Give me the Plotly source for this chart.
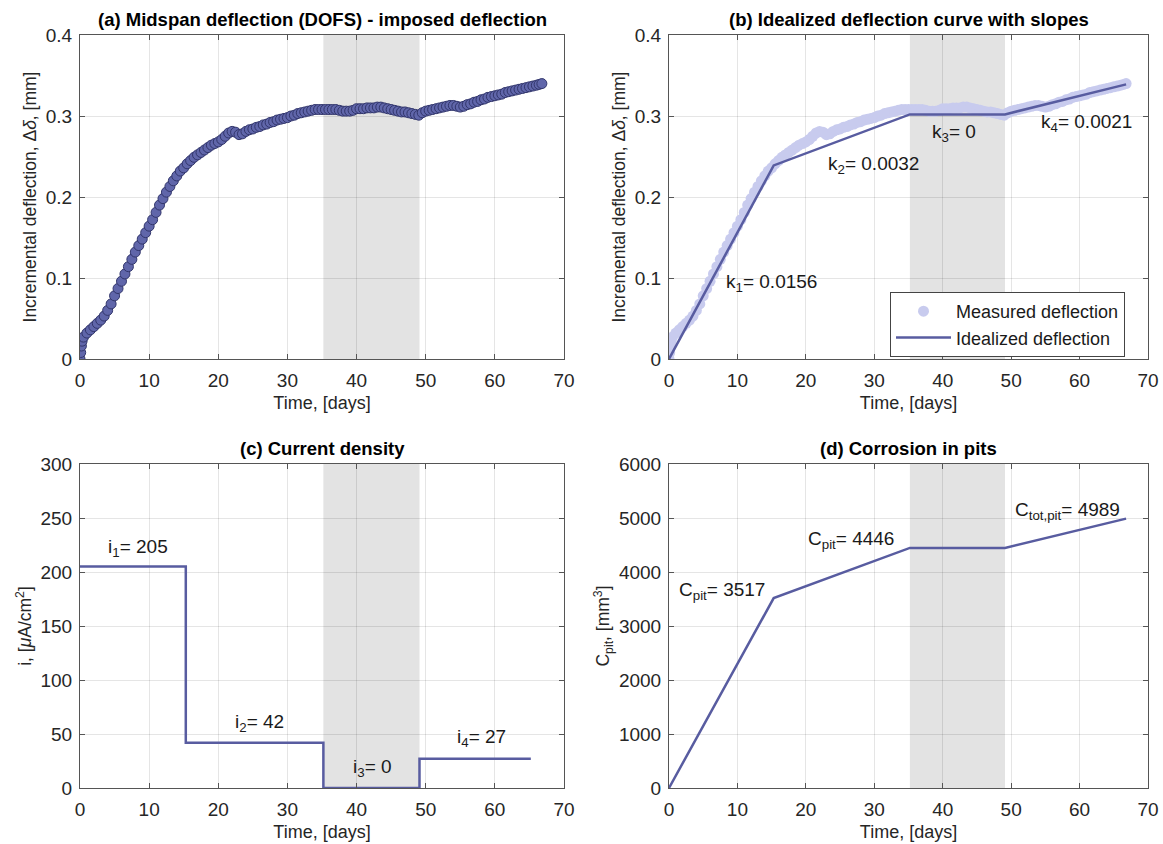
import plotly.graph_objects as go

# ---------------- data ----------------
days = [0.0, 0.1, 0.2, 0.3, 0.5, 1.0, 1.5, 2.0, 2.5, 3.0, 3.5, 4.0, 4.5, 5.0, 5.5,
        6.0, 6.5, 7.0, 7.5, 8.0, 8.5, 9.0, 9.5, 10.0, 10.5, 11.0, 11.5, 12.0, 12.5,
        13.0, 13.5, 14.0, 14.5, 15.0, 15.5, 16.0, 16.5, 17.0, 17.5, 18.0, 18.5,
        19.0, 19.5, 20.0, 20.5, 21.0, 21.5, 22.0, 22.5, 23.0, 23.5, 24.0, 24.5,
        25.0, 25.5, 26.0, 26.5, 27.0, 27.5, 28.0, 28.5, 29.0, 29.5, 30.0, 30.5,
        31.0, 31.5, 32.0, 32.5, 33.0, 33.5, 34.0, 34.5, 35.0, 35.5, 36.0, 36.5,
        37.0, 37.5, 38.0, 38.5, 39.0, 39.5, 40.0, 40.5, 41.0, 41.5, 42.0, 42.5,
        43.0, 43.5, 44.0, 44.5, 45.0, 45.5, 46.0, 46.5, 47.0, 47.5, 48.0, 48.5,
        49.0, 49.5, 50.0, 50.5, 51.0, 51.5, 52.0, 52.5, 53.0, 53.5, 54.0, 54.5,
        55.0, 55.5, 56.0, 56.5, 57.0, 57.5, 58.0, 58.5, 59.0, 59.5, 60.0, 60.5,
        61.0, 61.5, 62.0, 62.5, 63.0, 63.5, 64.0, 64.5, 65.0, 65.5, 66.0, 66.4, 66.8]
deflection = [0.000, 0.008, 0.016, 0.022, 0.027, 0.032, 0.036, 0.040, 0.044, 0.048,
              0.053, 0.060, 0.068, 0.078, 0.087, 0.096, 0.105, 0.114, 0.123, 0.132,
              0.140, 0.148, 0.156, 0.164, 0.172, 0.181, 0.190, 0.198, 0.206, 0.213,
              0.220, 0.226, 0.232, 0.236, 0.241, 0.245, 0.249, 0.252, 0.255, 0.258,
              0.261, 0.264, 0.266, 0.268, 0.271, 0.275, 0.279, 0.281, 0.280, 0.277,
              0.278, 0.281, 0.283, 0.284, 0.286, 0.287, 0.289, 0.290, 0.292, 0.293,
              0.295, 0.296, 0.297, 0.298, 0.300, 0.301, 0.303, 0.304, 0.305, 0.306,
              0.307, 0.308, 0.308, 0.308, 0.308, 0.308, 0.308, 0.308, 0.307, 0.306,
              0.306, 0.306, 0.307, 0.309, 0.309, 0.309, 0.310, 0.310, 0.310, 0.311,
              0.311, 0.310, 0.309, 0.308, 0.307, 0.306, 0.305, 0.305, 0.304, 0.303,
              0.302, 0.301, 0.304, 0.306, 0.307, 0.308, 0.309, 0.310, 0.311, 0.312,
              0.313, 0.313, 0.312, 0.311, 0.312, 0.314, 0.315, 0.317, 0.318, 0.320,
              0.321, 0.323, 0.324, 0.325, 0.326, 0.327, 0.329, 0.330, 0.331, 0.332,
              0.333, 0.334, 0.335, 0.336, 0.337, 0.338, 0.339, 0.340]

ideal_t = [0, 15.3, 35.2, 49.1, 66.8]
ideal_d = [0, 0.239, 0.302, 0.302, 0.339]

current_t = [0, 15.3, 35.2, 49.1, 65.2]
current_i = [205, 42, 0, 27, 27]

pit_t = [0, 15.3, 35.2, 49.1, 66.8]
pit_c = [0, 3517, 4446, 4446, 4989]

pause_start, pause_end = 35.2, 49.1

x_ticks = [0, 10, 20, 30, 40, 50, 60, 70]

# ---------------- styling ----------------
FONT = "Liberation Sans, Arial, Helvetica, sans-serif"
LINE_COL = "rgb(88,92,160)"
MARK_FILL = "rgb(96,102,170)"
MARK_EDGE = "rgb(50,54,108)"
LIGHT_MARK = "rgb(200,203,238)"

W, H = 1163, 844
dom_x = {1: [80 / W, 564 / W], 2: [669 / W, 1148 / W]}
dom_y = {1: [1 - 359 / H, 1 - 35 / H], 2: [1 - 788 / H, 1 - 464 / H]}

fig = go.Figure()

# (a)
fig.add_trace(go.Scatter(x=days, y=deflection, mode="markers", xaxis="x", yaxis="y",
                         marker=dict(size=10, color=MARK_FILL,
                                     line=dict(color=MARK_EDGE, width=1)),
                         showlegend=False))
# (b)
fig.add_trace(go.Scatter(x=days, y=deflection, mode="markers", xaxis="x2", yaxis="y2",
                         marker=dict(size=11, color=LIGHT_MARK),
                         name="Measured deflection"))
fig.add_trace(go.Scatter(x=ideal_t, y=ideal_d, mode="lines", xaxis="x2", yaxis="y2",
                         line=dict(color=LINE_COL, width=2.5),
                         name="Idealized deflection"))
# (c)
fig.add_trace(go.Scatter(x=current_t, y=current_i, mode="lines", xaxis="x3", yaxis="y3",
                         line=dict(color=LINE_COL, width=2.5, shape="hv"),
                         showlegend=False))
# (d)
fig.add_trace(go.Scatter(x=pit_t, y=pit_c, mode="lines", xaxis="x4", yaxis="y4",
                         line=dict(color=LINE_COL, width=2.5),
                         showlegend=False))

axis_common = dict(showgrid=True, gridcolor="rgba(0,0,0,0.10)", gridwidth=1,
                   zeroline=False, showline=True, linecolor="#555", linewidth=1,
                   mirror="ticks", ticks="inside", ticklen=5, tickcolor="#555",
                   automargin=False, ticklabeloverflow="allow",
                   tickfont=dict(size=19, color="#262626", family=FONT))

title_font = dict(size=18, color="#262626", family=FONT)

layout = dict(
    width=W, height=H,
    margin=dict(l=0, r=0, t=0, b=0),
    paper_bgcolor="white", plot_bgcolor="white",
    font=dict(family=FONT, color="#262626"),
)

panels = [
    (1, "x", "y", 1, 1, [0, 0.4], 0.1, "Incremental deflection, Δ<i>δ</i>, [mm]"),
    (2, "x2", "y2", 2, 1, [0, 0.4], 0.1, "Incremental deflection, Δ<i>δ</i>, [mm]"),
    (3, "x3", "y3", 1, 2, [0, 300], 50, "i, [<i>μ</i>A/cm<sup>2</sup>]"),
    (4, "x4", "y4", 2, 2, [0, 6000], 1000, "C<sub>pit</sub>, [mm<sup>3</sup>]"),
]
for n, xa, ya, c, r, yr, dt, ytitle in panels:
    xk = "xaxis" if n == 1 else f"xaxis{n}"
    yk = "yaxis" if n == 1 else f"yaxis{n}"
    layout[xk] = dict(axis_common, domain=dom_x[c], anchor=ya, range=[0, 70],
                      tickvals=x_ticks, ticklabelstandoff=4,
                      title=dict(text="Time, [days]", font=title_font, standoff=6))
    layout[yk] = dict(axis_common, domain=dom_y[r], anchor=xa, range=yr, dtick=dt,
                      ticklabelstandoff=3,
                      title=dict(text=ytitle, font=dict(title_font, size=17.5),
                                 standoff=4))

fig.update_layout(**layout)

# shaded pause region
for n in range(1, 5):
    xr = "x" if n == 1 else f"x{n}"
    yr = "y" if n == 1 else f"y{n}"
    fig.add_shape(type="rect", xref=xr, yref=f"{yr} domain", x0=pause_start, x1=pause_end,
                  y0=0, y1=1, fillcolor="rgb(227,227,227)", line=dict(width=0),
                  layer="below")

# panel titles
titles = [
    ("(a) Midspan deflection (DOFS) - imposed deflection", 1, 1),
    ("(b) Idealized deflection curve with slopes", 2, 1),
    ("(c) Current density", 1, 2),
    ("(d) Corrosion in pits", 2, 2),
]
for text, c, r in titles:
    fig.add_annotation(text=f"<b>{text}</b>", xref="paper", yref="paper",
                       x=sum(dom_x[c]) / 2, y=dom_y[r][1], yanchor="bottom",
                       xanchor="center", yshift=3, showarrow=False,
                       font=dict(size=18.5, color="black", family=FONT))

ann_font = dict(size=19, color="#1a1a1a", family=FONT)
labels = [
    ("x2", "y2", 8.1, 0.099, "k<sub>1</sub>= 0.0156"),
    ("x2", "y2", 22.9, 0.245, "k<sub>2</sub>= 0.0032"),
    ("x2", "y2", 38.2, 0.284, "k<sub>3</sub>= 0"),
    ("x2", "y2", 54.1, 0.2965, "k<sub>4</sub>= 0.0021"),
    ("x3", "y3", 3.75, 226, "i<sub>1</sub>= 205"),
    ("x3", "y3", 22.1, 64, "i<sub>2</sub>= 42"),
    ("x3", "y3", 39.2, 22.5, "i<sub>3</sub>= 0"),
    ("x3", "y3", 54.2, 50, "i<sub>4</sub>= 27"),
    ("x4", "y4", 1.1, 3717, "C<sub>pit</sub>= 3517"),
    ("x4", "y4", 20.0, 4673, "C<sub>pit</sub>= 4446"),
    ("x4", "y4", 50.2, 5210, "C<sub>tot,pit</sub>= 4989"),
]
for xr, yr, x, y, t in labels:
    fig.add_annotation(text=t, xref=xr, yref=yr, x=x, y=y, xanchor="left",
                       yanchor="middle", yshift=-4, showarrow=False, font=ann_font)

fig.update_layout(legend=dict(x=1125 / W, y=1 - 292 / H, xanchor="right",
                              yanchor="top", bgcolor="white", bordercolor="#444",
                              borderwidth=1, font=dict(size=18, color="#1a1a1a",
                                                       family=FONT),
                              itemwidth=55, tracegroupgap=0))

fig.write_html("out.html", config={"displayModeBar": False},
               post_script="document.body.style.margin='0';"
                           "document.body.style.overflow='hidden';")
